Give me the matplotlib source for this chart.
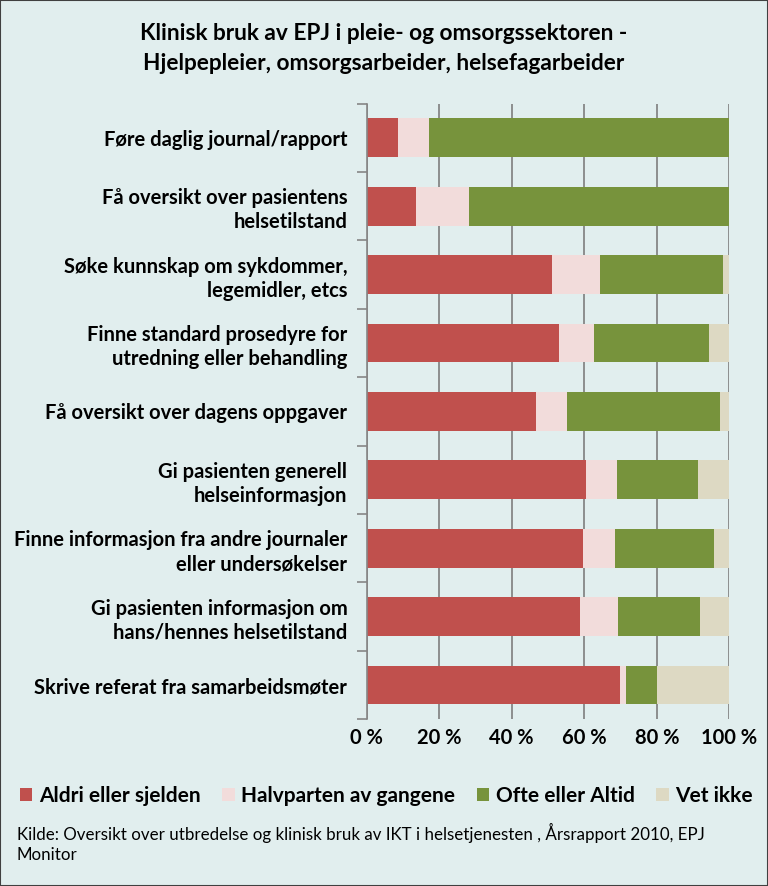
import matplotlib
matplotlib.use("Agg")
import matplotlib.pyplot as plt
import numpy as np
from matplotlib.patches import Rectangle

# data (percent)
categories = [
    "Føre daglig journal/rapport",
    "Få oversikt over pasientens\nhelsetilstand",
    "Søke kunnskap om sykdommer,\nlegemidler, etcs",
    "Finne standard prosedyre for\nutredning eller behandling",
    "Få oversikt over dagens oppgaver",
    "Gi pasienten generell\nhelseinformasjon",
    "Finne informasjon fra andre journaler\neller undersøkelser",
    "Gi pasienten informasjon om\nhans/hennes helsetilstand",
    "Skrive referat fra samarbeidsmøter",
]
aldri = [8.6, 13.6, 51.1, 53.0, 46.7, 60.5, 59.7, 58.8, 69.9]
halv = [8.6, 14.6, 13.2, 9.7, 8.5, 8.5, 8.8, 10.5, 1.6]
ofte = [82.8, 71.8, 34.0, 31.7, 42.2, 22.4, 27.3, 22.6, 8.6]
vet = [0.0, 0.0, 1.7, 5.6, 2.6, 8.6, 4.2, 8.1, 19.9]
series_names = ["Aldri eller sjelden", "Halvparten av gangene", "Ofte eller Altid", "Vet ikke"]
xtick_vals = [0, 20, 40, 60, 80, 100]

colors = ["#C0504D", "#F2DCDB", "#77933C", "#DDD9C3"]
bg = "#E1EEEE"
font = "Lato"

fig = plt.figure(figsize=(7.68, 8.86), dpi=100, facecolor=bg)
ax = fig.add_axes([0.4775, 0.1882, 0.4721, 0.6948])
ax.set_facecolor(bg)

y = np.arange(len(categories))
left = np.zeros(len(categories))
for vals, c, name in zip([aldri, halv, ofte, vet], colors, series_names):
    ax.barh(y, vals, left=left, height=0.567, color=c, label=name, zorder=3)
    left = left + np.array(vals)

ax.set_xlim(0, 100)
ax.set_ylim(len(categories) - 0.5, -0.5)
ax.set_xticks(xtick_vals)
ax.set_xticklabels([f"{v} %" for v in xtick_vals], fontsize=14.5, fontweight="bold", family=font)
ax.tick_params(axis="x", length=0, pad=6)
ax.set_yticks(y)
ax.set_yticklabels(categories, fontsize=14.5, fontweight="bold", family=font, linespacing=1.25)
ax.tick_params(axis="y", which="major", length=0, pad=14)
ax.set_yticks(np.arange(-0.5, len(categories)), minor=True)
ax.tick_params(axis="y", which="minor", length=7, color="#868686", width=1.2)
ax.grid(axis="x", color="#868686", linewidth=1.3, zorder=0)
for s in ["top", "right", "bottom"]:
    ax.spines[s].set_visible(False)
ax.spines["left"].set_color("#868686")
ax.spines["left"].set_linewidth(1.2)
ax.spines["left"].set_zorder(4)

# title, two lines
H = 886
fig.text(0.5, 1 - 33 / H, "Klinisk bruk av EPJ i pleie- og omsorgssektoren -",
         ha="center", va="center", fontsize=16.3, fontweight="bold", family=font)
fig.text(0.5, 1 - 64 / H, "Hjelpepleier, omsorgsarbeider, helsefagarbeider",
         ha="center", va="center", fontsize=16.3, fontweight="bold", family=font)

leg = fig.legend(loc="center left", bbox_to_anchor=(0.026, 1 - 796 / H), ncol=4, frameon=False,
                 borderaxespad=0, borderpad=0,
                 prop={"family": font, "weight": "bold", "size": 15},
                 handlelength=0.6, handleheight=0.62, handletextpad=0.3, columnspacing=1.05)

fig.text(0.022, 1 - 833 / H, "Kilde: Oversikt over utbredelse og klinisk bruk av IKT i helsetjenesten , Årsrapport 2010, EPJ",
         ha="left", va="center", fontsize=12.2, family=font)
fig.text(0.022, 1 - 855 / H, "Monitor", ha="left", va="center", fontsize=12.2, family=font)

fig.patches.append(Rectangle((0, 0), 1, 1, transform=fig.transFigure, fill=False,
                             edgecolor="#404040", linewidth=1.5))

fig.savefig("out.png", dpi=100, facecolor=bg)
